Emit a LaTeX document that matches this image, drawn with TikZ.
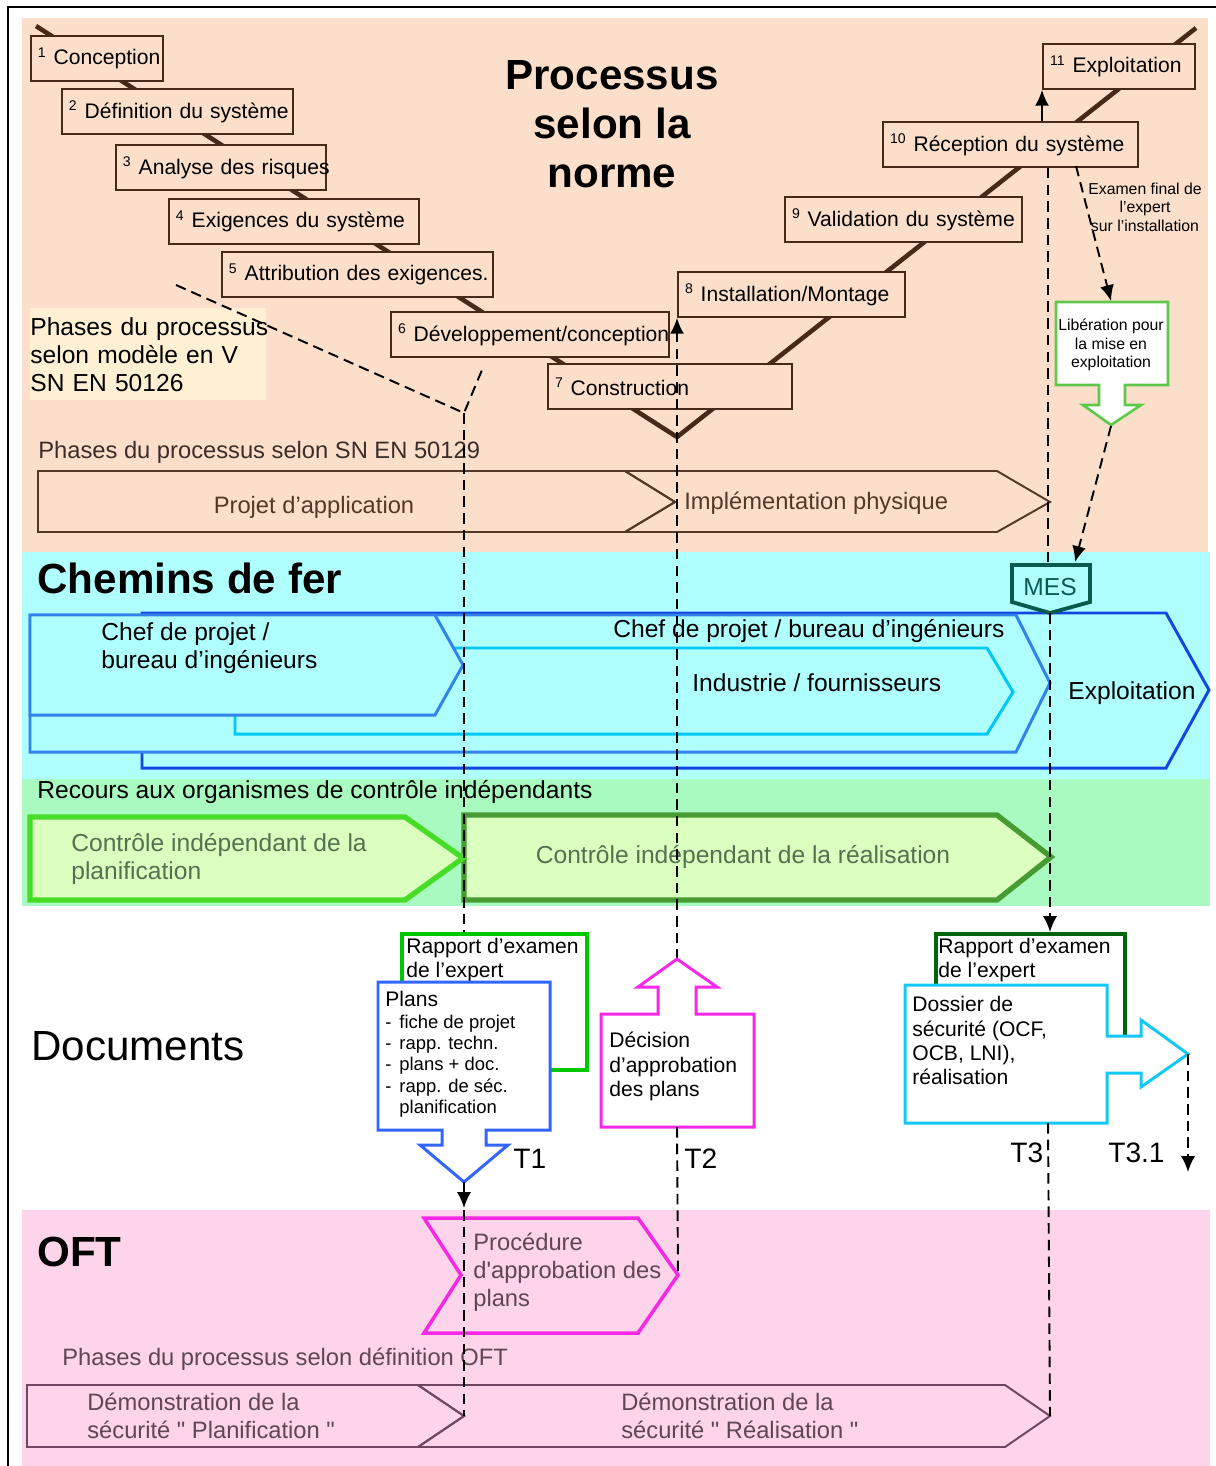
\documentclass[tikz,border=0pt]{standalone}
\usepackage{fontspec}
\setmainfont{Liberation Sans}[Ligatures=TeXOff]
\usetikzlibrary{arrows.meta}

\newdimen\px \px=0.02cm

\definecolor{peach}{RGB}{252,223,203}
\definecolor{vyellow}{RGB}{255,240,212}
\definecolor{cyanbg}{RGB}{175,255,255}
\definecolor{greenbg}{RGB}{168,250,192}
\definecolor{pinkbg}{RGB}{253,212,233}
\definecolor{lgreen}{RGB}{218,255,190}
\definecolor{vbrown}{RGB}{72,40,25}
\definecolor{phbrown}{RGB}{85,55,40}
\definecolor{blueA}{RGB}{50,130,235}
\definecolor{blueD}{RGB}{20,70,225}
\definecolor{cyanC}{RGB}{0,200,245}
\definecolor{greenE}{RGB}{70,220,40}
\definecolor{greenF}{RGB}{70,155,50}
\definecolor{mesteal}{RGB}{10,90,80}
\definecolor{libgreen}{RGB}{95,200,75}
\definecolor{rapgreen}{RGB}{0,200,0}
\definecolor{rapdark}{RGB}{0,100,10}
\definecolor{planblue}{RGB}{50,100,255}
\definecolor{magent}{RGB}{245,40,230}
\definecolor{dosscyan}{RGB}{20,200,245}
\definecolor{oftline}{RGB}{110,70,95}
\definecolor{ctrltext}{RGB}{80,115,80}
\definecolor{ofttext}{RGB}{95,70,85}
\definecolor{gtext}{RGB}{60,45,40}

\tikzset{
  vstep/.style={draw=vbrown, fill=peach, line width=1.1pt, anchor=north west,
    inner sep=0pt, minimum height=45*\px, minimum width=#1*\px,
    text width=#1*\px-8pt, align=left, font=\fontsize{12}{14}\selectfont},
  vline/.style={draw=vbrown, line width=2.6pt},
  lbl/.style={inner sep=0pt, anchor=west, align=left},
  big/.style={font=\fontsize{24}{28}\selectfont\bfseries},
  phasebox/.style={draw=phbrown, line width=1.1pt},
  role/.style={line width=1.7pt, fill=cyanbg},
  ctrl/.style={line width=3pt, fill=lgreen},
  docbox/.style={fill=white, line width=1.7pt},
  dashline/.style={line width=1.1pt, dash pattern=on 6pt off 3.5pt},
  tip/.style={-{Latex[length=9pt,width=8pt]}},
  tlabel/.style={lbl, font=\fontsize{16}{18}\selectfont},
}

\begin{document}
\begin{tikzpicture}[x=0.02cm, y=-0.02cm, font=\fontsize{14}{16}\selectfont]
\useasboundingbox (0,0) rectangle (1216,1466);

% bands
\fill[peach] (22,18) rectangle (1208,552);
\fill[cyanbg] (22,552) rectangle (1210,779);
\fill[greenbg] (22,779) rectangle (1210,906);
\fill[pinkbg] (22,1210) rectangle (1210,1466);
\draw[line width=1.2pt] (8,1466) -- (8,7) -- (1216,7);

% V model
\coordinate (vstart) at (36,26);
\coordinate (vbottom) at (677,437);
\coordinate (vend) at (1196,28);
\draw[vline] (vstart) -- (vbottom) -- (vend);

\node (conc) [vstep=132] at (30,35) {\mbox{\textsuperscript{1} Conception}};
\node (defin) [vstep=231] at (61,88) {\mbox{\textsuperscript{2} Définition du système}};
\node (risk) [vstep=210] at (115,144) {\mbox{\textsuperscript{3} Analyse des risques}};
\node (exig) [vstep=250] at (168,198) {\mbox{\textsuperscript{4} Exigences du système}};
\node (attr) [vstep=271] at (221,251) {\mbox{\textsuperscript{5} Attribution des exigences.}};
\node (devel) [vstep=278] at (390,311) {\mbox{\textsuperscript{6} Développement/conception}};
\node (constr) [vstep=244] at (547,363) {\mbox{\textsuperscript{7} Construction}};
\node (inst) [vstep=227] at (677,271) {\mbox{\textsuperscript{8} Installation/Montage}};
\node (valid) [vstep=237] at (784,196) {\mbox{\textsuperscript{9} Validation du système}};
\node (recep) [vstep=255] at (882,121) {\mbox{\textsuperscript{10} Réception du système}};
\node (expl) [vstep=152] at (1042,43) {\mbox{\textsuperscript{11} Exploitation}};

\node (title) [big, align=center, inner sep=0pt,
    font=\fontsize{24}{27.8}\selectfont\bfseries] at (612,124)
    {Processus\\selon la\\norme};

\node (phasesV) [fill=vyellow, anchor=north west, inner sep=0pt,
    minimum width=236*\px, minimum height=92*\px, text width=236*\px,
    align=left] at (30,308)
    {\mbox{Phases du processus}\\\mbox{selon modèle en V}\\\mbox{SN EN 50126}};

% phases SN EN 50129
\node (ph50129) [lbl, text=gtext, font=\fontsize{13.5}{16}\selectfont] at (38,452)
    {Phases du processus selon SN EN 50129};
\draw[phasebox] (38,471) -- (625,471) -- (675,502) -- (625,532) -- (38,532) -- cycle;
\draw[phasebox] (625,471) -- (997,471) -- (1050,502) -- (997,532) -- (625,532)
    -- (675,502) -- cycle;
\node (projet) [inner sep=0pt, text=phbrown, font=\fontsize{13.5}{16}\selectfont]
    at (314,507) {Projet d’application};
\node (implem) [lbl, text=phbrown, font=\fontsize{13.5}{16}\selectfont]
    at (684,503) {Implémentation physique};

% Chemins de fer
\node (cff) [lbl, big] at (37,578) {Chemins de fer};
\draw[role, draw=blueD] (142,613) -- (1166,613) -- (1209,690) -- (1166,768)
    -- (142,768) -- cycle;
\draw[role, draw=blueA] (30,615) -- (1016,615) -- (1050,683) -- (1016,752)
    -- (30,752) -- cycle;
\draw[role, draw=cyanC] (235,648) -- (987,648) -- (1013,692) -- (987,734)
    -- (235,734) -- cycle;
\draw[role, draw=blueA] (30,615) -- (435,615) -- (463,665) -- (435,715)
    -- (30,715) -- cycle;
\node (chef1) [lbl] at (101,648) {Chef de projet /\\bureau d’ingénieurs};
\node (chef2) [lbl] at (613,631) {Chef de projet / bureau d’ingénieurs};
\node (indus) [lbl] at (692,683) {Industrie / fournisseurs};
\node (exploi) [lbl] at (1068,693) {Exploitation};

\draw[line width=2.2pt, draw=mesteal, fill=cyanbg] (1012,565) -- (1090,565)
    -- (1090,602) -- (1050,613) -- (1012,602) -- cycle;
\node (mes) [text=mesteal] at (1050,587) {MES};
\coordinate (mestop) at (1048,565);
\coordinate (mesbot) at (1050,613);
\coordinate (mesin) at (1075,562);

% controle independant
\node (recours) [lbl] at (37,792) {Recours aux organismes de contrôle indépendants};
\draw[ctrl, draw=greenF] (464,815) -- (997,815) -- (1051,857) -- (997,900)
    -- (464,900) -- cycle;
\draw[ctrl, draw=greenE] (30,817) -- (405,817) -- (463,858) -- (405,900)
    -- (30,900) -- cycle;
\node (ctrlplan) [lbl, text=ctrltext] at (71,859)
    {Contrôle indépendant de la\\planification};
\node (ctrlreal) [inner sep=0pt, text=ctrltext] at (743,857)
    {Contrôle indépendant de la réalisation};

% liberation
\draw[line width=1.5pt, draw=libgreen, fill=white] (1056,302) -- (1168,302)
    -- (1168,385) -- (1125,385) -- (1125,405) -- (1141,405) -- (1111,425)
    -- (1083,405) -- (1099,405) -- (1099,385) -- (1056,385) -- cycle;
\coordinate (libtop) at (1111,301);
\coordinate (libtip) at (1111,426);
\node (libtxt) [align=center, inner sep=0pt, font=\fontsize{9}{10.5}\selectfont]
    at (1111,345) {Libération pour\\la mise en\\exploitation};
\node (examen) [align=center, inner sep=0pt, font=\fontsize{9}{10.5}\selectfont]
    at (1145,207) {Examen final de\\l’expert\\sur l’installation};
\coordinate (exstart) at (1076,166);

% OFT
\node (oft) [lbl, big] at (37,1252) {OFT};
\draw[line width=2pt, draw=magent, fill=pinkbg] (424,1218) -- (638,1218)
    -- (678,1275) -- (638,1333) -- (424,1333) -- (461,1275) -- cycle;
\coordinate (proctip) at (678,1275);
\node (proc) [lbl, text=ofttext, font=\fontsize{13.5}{15.9}\selectfont]
    at (473,1272) {Procédure\\d'approbation des\\plans};
\node (phoft) [lbl, text=ofttext, font=\fontsize{13.5}{16}\selectfont]
    at (62,1359) {Phases du processus selon définition OFT};
\draw[line width=1.1pt, draw=oftline] (27,1385) -- (418,1385) -- (464,1416)
    -- (418,1447) -- (27,1447) -- cycle;
\draw[line width=1.1pt, draw=oftline] (418,1385) -- (1005,1385) -- (1050,1416)
    -- (1005,1447) -- (418,1447) -- (464,1416) -- cycle;
\coordinate (demoPtip) at (464,1416);
\coordinate (demoRtip) at (1050,1416);
\node (demoP) [lbl, text=ofttext, font=\fontsize{13.5}{15.9}\selectfont]
    at (87,1416) {Démonstration de la\\sécurité " Planification "};
\node (demoR) [lbl, text=ofttext, font=\fontsize{13.5}{15.9}\selectfont]
    at (621,1416) {Démonstration de la\\sécurité " Réalisation "};

% Documents
\node (docs) [lbl, font=\fontsize{24}{28}\selectfont] at (31,1046) {Documents};

% dashed guide lines
\coordinate (vmeet) at (464,413);
\coordinate (phA) at (176,285);
\coordinate (phB) at (482,370);
\draw[dashline] (phA) -- (vmeet) -- (phB);
\draw[dashline] (vmeet) -- (464,935);
\draw[dashline, tip] (677,960) -- (inst.south west);
\draw[dashline] (recep.south -| mestop) -- (mestop);
\draw[dashline, tip] (exstart) -- (libtop);
\draw[dashline, tip] (libtip) -- (mesin);
\draw[tip, line width=1.1pt] (recep.north -| expl.south west) -- (expl.south west);

% rapport / plans
\node (rapp1) [docbox, draw=rapgreen, line width=2pt, anchor=north west,
    inner sep=0pt, minimum width=185*\px, minimum height=136*\px] at (400,932) {};
\node (rapp1txt) [lbl, anchor=north west, font=\fontsize{12}{13.6}\selectfont]
    at (406,938) {Rapport d’examen\\de l’expert};
\draw[docbox, draw=planblue] (378,982) -- (550,982) -- (550,1130) -- (486,1130)
    -- (486,1145) -- (508,1145) -- (464,1182) -- (420,1145) -- (442,1145)
    -- (442,1130) -- (378,1130) -- cycle;
\coordinate (plantip) at (464,1182);
\node (plans) [lbl, anchor=north west, font=\fontsize{10.5}{12.2}\selectfont]
    at (385,991) {{\fontsize{12}{14}\selectfont Plans}\\
    \makebox[8pt][l]{-}fiche de projet\\
    \makebox[8pt][l]{-}rapp. techn.\\
    \makebox[8pt][l]{-}plans + doc.\\
    \makebox[8pt][l]{-}rapp. de séc.\\
    \hspace*{8pt}planification};
\node (t1) [tlabel] at (513,1159) {T1};

% decision
\draw[docbox, draw=magent] (601,1014) -- (658,1014) -- (658,987) -- (638,987)
    -- (677,959) -- (717,987) -- (696,987) -- (696,1014) -- (754,1014)
    -- (754,1127) -- (601,1127) -- cycle;
\coordinate (dectip) at (677,959);
\coordinate (decbot) at (677,1127);
\node (dectxt) [lbl, anchor=north west, font=\fontsize{12}{13.9}\selectfont]
    at (609,1032) {Décision\\d’approbation\\des plans};
\node (t2) [tlabel] at (684,1159) {T2};

% rapport / dossier realisation
\node (rapp2) [docbox, draw=rapdark, line width=2pt, anchor=north west,
    inner sep=0pt, minimum width=189*\px, minimum height=128*\px] at (934,932) {};
\draw[docbox, draw=dosscyan] (905,985) -- (1107,985) -- (1107,1036) -- (1141,1036)
    -- (1141,1020) -- (1188,1054) -- (1141,1087) -- (1141,1073) -- (1107,1073)
    -- (1107,1123) -- (905,1123) -- cycle;
\coordinate (dosstip) at (1188,1054);
\coordinate (dossbot) at (1048,1123);
\node (rapp2txt) [lbl, anchor=north west, font=\fontsize{12}{13.6}\selectfont]
    at (938,938) {Rapport d’examen\\de l’expert};
\node (dosstxt) [lbl, anchor=north west, font=\fontsize{12}{13.9}\selectfont]
    at (912,996) {Dossier de\\sécurité (OCF,\\OCB, LNI),\\réalisation};
\node (t3) [tlabel] at (1010,1153) {T3};
\node (t31) [tlabel] at (1108,1153) {T3.1};

% connections through the documents
\draw[dashline, tip] (mesbot) -- (rapp2.north -| mesbot);
\draw[tip, line width=1.1pt] (plantip) -- (464,1208);
\draw[dashline] (464,1210) -- (demoPtip);
\draw[dashline] (decbot) -- (proctip);
\draw[dashline] (dossbot) -- (demoRtip);
\draw[dashline, tip] (dosstip) -- (1188,1172);

\end{tikzpicture}
\end{document}
